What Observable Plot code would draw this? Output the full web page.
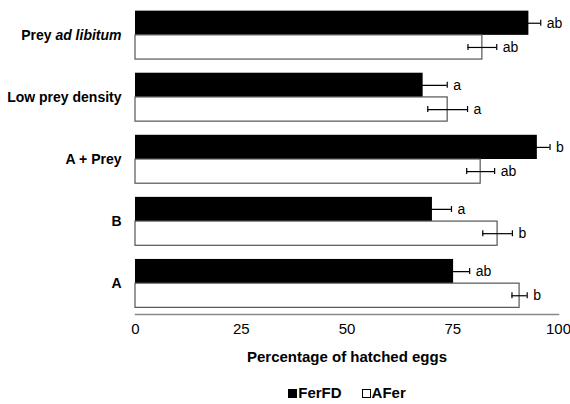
<!DOCTYPE html>
<html>
<head>
<meta charset="utf-8">
<script src="https://cdn.jsdelivr.net/npm/d3@7"></script>
<script src="https://cdn.jsdelivr.net/npm/@observablehq/plot@0.6"></script>
<style>
  html, body { margin: 0; padding: 0; background: #fff; }
  body { width: 570px; height: 404px; overflow: hidden; font-family: "Liberation Sans", Arial, sans-serif; }
  #legend { position: absolute; left: 0; width: 570px; top: 384px; text-align: center; font-weight: bold; font-size: 15px; color: #000; padding-left: 124px; box-sizing: border-box; }
  #legend .sw { display: inline-block; width: 9px; height: 9px; border: 1px solid #000; margin-right: 1px; vertical-align: 0px; box-sizing: border-box; }
</style>
</head>
<body>
<div id="chart"></div>
<div id="legend"></div>
<script>
const categories = ["Prey ad libitum", "Low prey density", "A + Prey", "B", "A"];
const series = ["FerFD", "AFer"];
const ferfd = [93, 68, 95, 70.2, 75.2];
const ferfdErr = [2.8, 5.7, 3, 4.5, 3.8];
const afer = [82, 73.8, 81.6, 85.6, 90.8];
const aferErr = [3.4, 4.7, 3.3, 3.5, 1.8];
const ferfdLetters = ["ab", "a", "b", "a", "ab"];
const aferLetters = ["ab", "a", "ab", "b", "b"];
const xTicks = [0, 25, 50, 75, 100];

const rowsF = categories.map((c, i) => ({cat: c, v: ferfd[i], e: ferfdErr[i], l: ferfdLetters[i]}));
const rowsA = categories.map((c, i) => ({cat: c, v: afer[i], e: aferErr[i], l: aferLetters[i]}));

const W = 570, H = 372, mt = 4, mb = 58, ml = 135, mr = 12;
const pIn = 0.22, pOut = 0.107;
const step = (H - mt - mb) / (categories.length - pIn + 2 * pOut);
const bw = step * (1 - pIn);
const half = bw / 2;
const cap = 3;
const errColor = "#000";

const chart = Plot.plot({
  width: W, height: H,
  marginTop: mt, marginBottom: mb, marginLeft: ml, marginRight: mr,
  style: {fontFamily: "'Liberation Sans', Arial, sans-serif", background: "#fff"},
  x: {domain: [0, 100], ticks: xTicks},
  y: {domain: categories, paddingInner: pIn, paddingOuter: pOut, round: false},
  marks: [
    Plot.barX(rowsF, {x: "v", y: "cat", fill: "#000", insetBottom: half}),
    Plot.barX(rowsA, {x: "v", y: "cat", fill: "#fff", stroke: "#555", strokeWidth: 1.2, insetTop: half}),
    Plot.ruleY(rowsF, {y: "cat", x1: d => d.v - d.e, x2: d => d.v + d.e, dy: -bw / 4, stroke: errColor, strokeWidth: 1.2}),
    Plot.ruleY(rowsA, {y: "cat", x1: d => d.v - d.e, x2: d => d.v + d.e, dy: bw / 4, stroke: errColor, strokeWidth: 1.2}),
    Plot.tickX(rowsF, {x: d => d.v + d.e, y: "cat", insetTop: bw / 4 - cap, insetBottom: 3 * bw / 4 - cap, stroke: errColor, strokeWidth: 1.2}),
    Plot.tickX(rowsF, {x: d => d.v - d.e, y: "cat", insetTop: bw / 4 - cap, insetBottom: 3 * bw / 4 - cap, stroke: errColor, strokeWidth: 1.2}),
    Plot.tickX(rowsA, {x: d => d.v + d.e, y: "cat", insetTop: 3 * bw / 4 - cap, insetBottom: bw / 4 - cap, stroke: errColor, strokeWidth: 1.2}),
    Plot.tickX(rowsA, {x: d => d.v - d.e, y: "cat", insetTop: 3 * bw / 4 - cap, insetBottom: bw / 4 - cap, stroke: errColor, strokeWidth: 1.2}),
    Plot.text(rowsF, {x: d => d.v + d.e, y: "cat", text: "l", dy: -bw / 4, dx: 6, textAnchor: "start", fontSize: 14, fill: "#000"}),
    Plot.text(rowsA, {x: d => d.v + d.e, y: "cat", text: "l", dy: bw / 4, dx: 6, textAnchor: "start", fontSize: 14, fill: "#000"}),
    Plot.frame({anchor: "bottom", stroke: "#888", strokeWidth: 1.5}),
    Plot.axisX({ticks: xTicks, tickSize: 0, tickPadding: 9, fontSize: 15, label: "Percentage of hatched eggs", labelAnchor: "center", labelOffset: 47, labelArrow: "none"}),
    Plot.axisY({tickSize: 0, tickPadding: 14, fontSize: 14, fontWeight: "bold", label: null})
  ]
});
document.getElementById("chart").appendChild(chart);

// style axis label bold and italicize "ad libitum"
chart.querySelectorAll("text").forEach(t => {
  if (t.textContent === "Percentage of hatched eggs") {
    t.setAttribute("font-weight", "bold");
    t.setAttribute("font-size", "15");
    t.style.fontWeight = "bold";
  }
  if (t.textContent === "Prey ad libitum") {
    t.textContent = "";
    const a = document.createElementNS("http://www.w3.org/2000/svg", "tspan");
    a.textContent = "Prey ";
    const b = document.createElementNS("http://www.w3.org/2000/svg", "tspan");
    b.textContent = "ad libitum";
    b.setAttribute("font-style", "italic");
    t.appendChild(a); t.appendChild(b);
  }
});

const legend = document.getElementById("legend");
series.forEach((s, i) => {
  const sw = document.createElement("span");
  sw.className = "sw";
  sw.style.background = i === 0 ? "#000" : "#fff";
  legend.appendChild(sw);
  const lab = document.createElement("span");
  lab.textContent = s;
  lab.style.marginRight = i === 0 ? "20px" : "0";
  legend.appendChild(lab);
});
</script>
</body>
</html>
